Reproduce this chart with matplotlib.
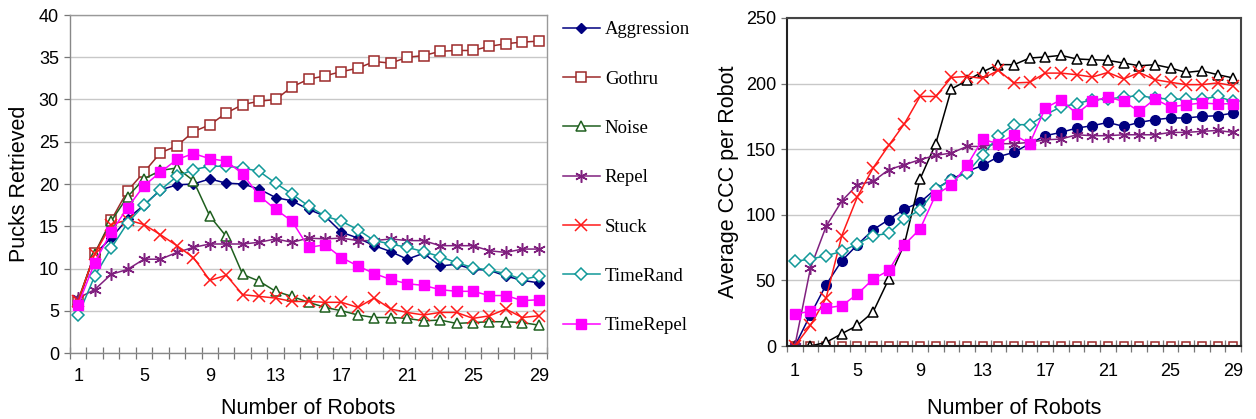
import numpy as np
import matplotlib as mpl
mpl.use('Agg')
import matplotlib.pyplot as plt
from matplotlib.transforms import Bbox, TransformedBbox

plt.rcParams['font.family'] = ['Liberation Sans', 'DejaVu Sans']

robots = list(range(1, 30))
xticks = [1, 5, 9, 13, 17, 21, 25, 29]
labels = ['Aggression', 'Gothru', 'Noise', 'Repel', 'Stuck', 'TimeRand', 'TimeRepel']

# left chart: pucks retrieved
pucks_aggression = [6.1, 11.7, 13.6, 15.9, 17.5, 19.3, 19.9, 20.0, 20.6, 20.1, 20.0, 19.4, 18.4,
                    18.0, 17.0, 16.2, 14.3, 13.6, 12.7, 12.0, 11.1, 11.8, 10.3, 10.5, 9.9, 9.8, 9.1, 8.6, 8.3]
pucks_gothru = [6.0, 11.8, 15.7, 19.2, 21.4, 23.7, 24.5, 26.2, 27.0, 28.4, 29.4, 29.8, 30.0, 31.5,
                32.4, 32.8, 33.3, 33.7, 34.5, 34.3, 35.0, 35.2, 35.7, 35.8, 35.8, 36.3, 36.6, 36.8, 36.9]
pucks_noise = [6.3, 11.7, 15.6, 18.5, 20.6, 21.6, 21.9, 20.4, 16.2, 13.8, 9.3, 8.5, 7.3,
               6.7, 6.0, 5.4, 5.0, 4.5, 4.2, 4.2, 4.1, 3.8, 3.9, 3.5, 3.6, 3.7, 3.7, 3.6, 3.3]
pucks_repel = [6.5, 7.5, 9.3, 9.9, 11.1, 11.1, 11.9, 12.5, 12.9, 12.9, 12.9, 13.1, 13.5,
               13.1, 13.6, 13.5, 13.6, 13.3, 13.3, 13.5, 13.3, 13.3, 12.7, 12.7, 12.7, 12.1, 11.9, 12.3, 12.3]
pucks_stuck = [6.2, 11.7, 15.2, 15.75, 15.2, 14.0, 12.7, 11.3, 8.6, 9.2, 6.9, 6.7, 6.5,
               6.1, 6.1, 6.0, 6.0, 5.4, 6.5, 5.2, 4.8, 4.5, 4.8, 4.8, 4.1, 4.4, 5.2, 4.2, 4.4]
pucks_timerand = [4.5, 9.1, 12.4, 15.4, 17.5, 19.3, 20.9, 21.7, 22.1, 22.1, 21.9, 21.5, 20.1,
                  18.8, 17.4, 16.2, 15.6, 14.6, 13.3, 12.9, 12.5, 12.0, 11.4, 10.7, 10.1, 9.8, 9.4, 8.7, 9.1]
pucks_timerepel = [5.7, 10.7, 14.3, 17.2, 19.8, 21.4, 22.9, 23.6, 23.0, 22.7, 21.2, 18.6, 17.0,
                   15.6, 12.5, 12.8, 11.3, 10.3, 9.4, 8.7, 8.2, 8.0, 7.5, 7.3, 7.3, 6.8, 6.8, 6.2, 6.3]

# right chart: average CCC per robot
ccc_aggression = [0, 23.9, 46.7, 65, 77.2, 88.6, 96.3, 104.4, 109.5, 119.7, 127, 133, 137.7, 144.3,
                  147.6, 154.2, 160.3, 162.8, 166.1, 167.9, 170.4, 167.4, 170.4, 172.5, 173.8, 173.8,
                  175, 175.5, 177.6]
ccc_gothru = [0] * 29
ccc_noise = [0, 0, 2.8, 9.4, 15.7, 25.9, 51, 77.7, 127.3, 154.2, 195.9, 202.4, 209, 214.5,
             214.4, 219.5, 220.3, 221.5, 218.8, 218.2, 217.7, 215.7, 213.6, 214.4, 211.9, 208.5,
             209.8, 206.8, 204.3]
ccc_repel = [0, 59.4, 91.2, 110.5, 123, 125.5, 134.4, 138.2, 142, 145.3, 147.1, 152.1,
             152.1, 154.2, 154.2, 155.2, 157.2, 157.7, 161, 160.3, 160.3, 161, 161, 161, 162.8,
             162.8, 163.6, 164.3, 162.8]
ccc_stuck = [0, 15.7, 36.6, 84.1, 113.8, 135.7, 152.9, 169.4, 190.2, 190.2, 204.7, 205.4,
             204, 210, 200.5, 201, 208, 208, 206.8, 205, 208.5, 203.5, 208.5, 203, 201, 199.2,
             199.2, 200.5, 198.4]
ccc_timerand = [64.5, 66.3, 68.8, 72.1, 78, 84, 85.9, 97, 103.6, 119.5, 126.8, 131.9,
                145.8, 159.8, 168.7, 168.7, 176.3, 182.2, 184.7, 187.7, 188.2, 189.8, 190.8, 189,
                188.2, 188.2, 188.2, 190.2, 186.4]
ccc_timerepel = [24.4, 26.4, 29, 30.7, 39.6, 51, 57.6, 77.2, 89.2, 115.3, 122.6, 137.7,
                 157.5, 154.2, 161, 154.2, 181.4, 187.7, 177, 186.4, 189.8, 186.4, 178.8, 188.2,
                 182.2, 183.9, 185.2, 184.5, 184.7]

navy = '#000080'
brown = '#9C2A2A'
dgreen = '#1F5F1F'
purple = '#80207F'
red = '#FF1A1A'
teal = '#119999'
magenta = '#FF00FF'

fig = plt.figure(figsize=(12.56, 4.19), dpi=100)
ax1 = fig.add_axes([70/1256, 66/419, 477/1256, 338/419])
ax2 = fig.add_axes([787/1256, 73/419, 454/1256, 328/419])

def style_axis(ax, spine_col, frame_col, lw, xpad, labpad):
    ax.set_xlim(0.5, 29.5)
    ax.set_xticks(xticks)
    ax.set_xticks(np.arange(0.5, 30, 1), minor=True)
    ax.tick_params(axis='x', which='major', length=0, labelsize=13, pad=xpad)
    ax.tick_params(axis='x', which='minor', direction='inout', length=9, color='#777777', width=0.9)
    ax.tick_params(axis='y', which='major', direction='out', length=4, labelsize=13,
                   color='#777777', width=0.9, pad=4)
    ax.grid(axis='y', color='#C8C8C8', linewidth=1.0)
    ax.set_axisbelow(True)
    ax.spines['left'].set_color(spine_col)
    ax.spines['bottom'].set_color(spine_col)
    ax.spines['top'].set_color(frame_col)
    ax.spines['right'].set_color(frame_col)
    for s in ax.spines.values():
        s.set_linewidth(lw)
    ax.set_xlabel('Number of Robots', fontsize=15.5, labelpad=labpad)

lw = 1.1
ax1.plot(robots, pucks_aggression, color=navy, marker='D', ms=5, lw=lw, label=labels[0])
ax1.plot(robots, pucks_gothru, color=brown, marker='s', ms=6.5, mfc='white', mew=1.1, lw=lw, label=labels[1])
ax1.plot(robots, pucks_noise, color=dgreen, marker='^', ms=6.5, mfc='white', mew=1.1, lw=lw, label=labels[2])
ax1.plot(robots, pucks_repel, color=purple, marker=(6, 2, 0), ms=9, mew=1.1, lw=lw, label=labels[3])
ax1.plot(robots, pucks_stuck, color=red, marker='x', ms=8, mew=1.1, lw=lw, label=labels[4])
ax1.plot(robots, pucks_timerand, color=teal, marker='D', ms=6, mfc='white', mew=1.1, lw=lw, label=labels[5])
ax1.plot(robots, pucks_timerepel, color=magenta, marker='s', ms=7, lw=lw, label=labels[6])
ax1.set_ylim(0, 40)
ax1.set_yticks(range(0, 41, 5))
ax1.set_ylabel('Pucks Retrieved', fontsize=15.5, labelpad=6)
style_axis(ax1, '#888888', '#999999', 1.0, 11, 9)

ax2.plot(robots, ccc_aggression, color=navy, marker='o', ms=7, lw=lw)
ax2.plot(robots, ccc_gothru, color=brown, marker='s', ms=6, mfc='white', mew=1.1, lw=lw)
ax2.plot(robots, ccc_noise, color='black', marker='^', ms=6.5, mfc='white', mew=1.1, lw=lw)
ax2.plot(robots, ccc_repel, color=purple, marker=(6, 2, 0), ms=9, mew=1.1, lw=lw)
ax2.plot(robots, ccc_stuck, color=red, marker='x', ms=8, mew=1.1, lw=lw)
ax2.plot(robots, ccc_timerand, color=teal, marker='D', ms=6, mfc='white', mew=1.1, lw=lw)
ax2.plot(robots, ccc_timerepel, color=magenta, marker='s', ms=7, lw=lw)
ax2.set_ylim(0, 250)
ax2.set_yticks(range(0, 251, 50))
ax2.set_ylabel('Average CCC per Robot', fontsize=15.5, labelpad=5)
style_axis(ax2, '#222222', '#444444', 1.5, 12.5, 13)

h, l = ax1.get_legend_handles_labels()
leg = fig.legend(h, l, loc='upper left', bbox_to_anchor=(563/1256, 1 - 21/419), frameon=False,
                 prop={'family': 'Liberation Serif', 'size': 13.5}, labelspacing=1.72,
                 handlelength=1.95, handletextpad=0.28, borderpad=0, borderaxespad=0)
clip = TransformedBbox(Bbox([[0, 0], [700/1256, 1]]), fig.transFigure)
for t in leg.get_texts():
    t.set_clip_box(clip)
    t.set_clip_on(True)

plt.savefig('out.png', dpi=100)
plt.close()
